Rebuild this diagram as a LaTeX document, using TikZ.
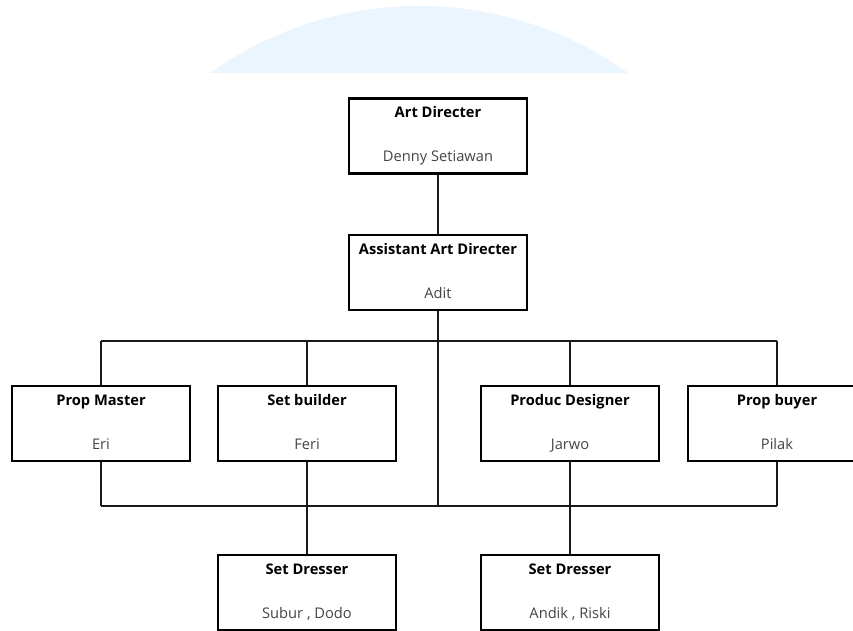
\documentclass[tikz,border=0pt]{standalone}
\usepackage{fontspec}
\setmainfont{Open Sans}
\usepackage{tikz}
\usetikzlibrary{positioning,calc}

\definecolor{bluetint}{RGB}{235,245,254}
\definecolor{namegray}{RGB}{68,68,68}

\newcommand{\role}[2]{\textbf{#1}\vphantom{Ad}\\{\color{namegray}#2}\vphantom{gJ}}

\begin{document}
\begin{tikzpicture}[x=0.75pt,y=-0.75pt,
    line/.style={line width=1.7pt,black!90},
    rolebox/.style={draw,line width=1.7pt,fill=white,minimum width=133.5pt,
      minimum height=56.25pt,inner sep=0pt,align=center,
      font=\fontsize{11}{33}\selectfont}]
    \clip (0,0) rectangle (853,631);

    % faint blue cap at the top
    \begin{scope}
      \clip (0,0) rectangle (853,73);
      \fill[bluetint] (419,365.5) circle[radius=359.5];
    \end{scope}

    \node[rolebox] (art)  at (438,136)   {\role{Art Directer}{Denny Setiawan}};
    \node[rolebox] (asst) at (438,272.5) {\role{Assistant Art Directer}{Adit}};

    \node[rolebox] (pm) at (101,423.5) {\role{Prop Master}{Eri}};
    \node[rolebox] (sb) at (307,423.5) {\role{Set builder}{Feri}};
    \node[rolebox] (pd) at (570,423.5) {\role{Produc Designer}{Jarwo}};
    \node[rolebox] (pb) at (777,423.5) {\role{Prop buyer}{Pilak}};

    \node[rolebox] (sd1) at (307,592.5) {\role{Set Dresser}{Subur , Dodo}};
    \node[rolebox] (sd2) at (570,592.5) {\role{Set Dresser}{Andik , Riski}};

    % the two buses
    \coordinate (topL) at (101,341);
    \coordinate (topR) at (777,341);
    \coordinate (botL) at (101,506);
    \coordinate (botR) at (777,506);
    \draw[line] (topL) -- (topR);
    \draw[line] (botL) -- (botR);

    \draw[line] (art) -- (asst);
    \draw[line] (asst) -- (asst |- botL);

    \foreach \n in {pm,sb,pd,pb} {
      \draw[line] (\n) -- (\n |- topL);
      \draw[line] (\n) -- (\n |- botL);
    }

    \draw[line] (sb) -- (sd1);
    \draw[line] (pd) -- (sd2);
  \end{tikzpicture}
\end{document}
